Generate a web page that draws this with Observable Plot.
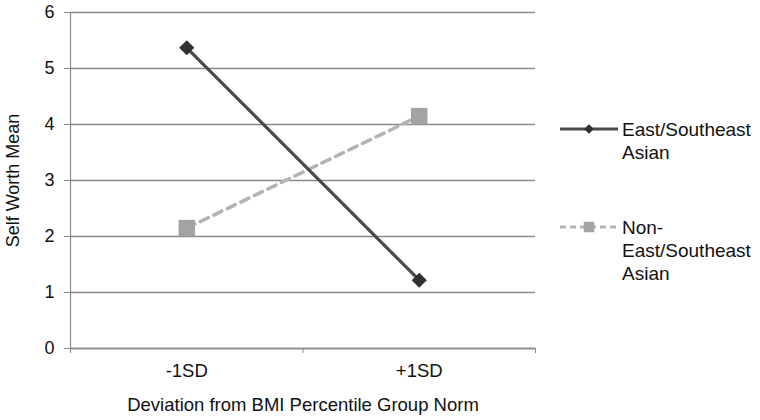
<!DOCTYPE html>
<html>
<head>
<meta charset="utf-8">
<script src="https://cdn.jsdelivr.net/npm/d3@7"></script>
<script src="https://cdn.jsdelivr.net/npm/@observablehq/plot@0.6"></script>
<style>
  html, body { margin: 0; padding: 0; background: #fff; }
  #wrap { position: relative; width: 760px; height: 420px; font-family: "Liberation Sans", Arial, sans-serif; }
  #legend { position: absolute; left: 0; top: 0; }
</style>
</head>
<body>
<div id="wrap"></div>
<script>
const categories = ["-1SD", "+1SD"];
const seriesNames = ["East/Southeast Asian", "Non-East/Southeast Asian"];
const eastValues = [5.37, 1.22];
const nonEastValues = [2.15, 4.15];
const yTicks = [0, 1, 2, 3, 4, 5, 6];
const xTitle = "Deviation from BMI Percentile Group Norm";
const yTitle = "Self Worth Mean";
const legendLines = [["East/Southeast", "Asian"], ["Non-", "East/Southeast", "Asian"]];

const eastColor = "#4a4a4a";
const eastMarker = "#303030";
const nonColor = "#b3b3b3";
const nonMarker = "#a3a3a3";

const rows = [];
categories.forEach((c, i) => {
  rows.push({series: seriesNames[0], pos: i + 0.5, value: eastValues[i]});
  rows.push({series: seriesNames[1], pos: i + 0.5, value: nonEastValues[i]});
});
const east = rows.filter(d => d.series === seriesNames[0]);
const non = rows.filter(d => d.series === seriesNames[1]);
const boundaries = d3.range(categories.length + 1);
const centers = categories.map((c, i) => i + 0.5);

const chart = Plot.plot({
  width: 760,
  height: 420,
  marginLeft: 70,
  marginRight: 225,
  marginTop: 12,
  marginBottom: 72,
  style: {fontFamily: "'Liberation Sans', Arial, sans-serif", fontSize: "18.5px", color: "#111", background: "#fff"},
  x: {domain: [0, categories.length], axis: null},
  y: {domain: [0, 6], axis: null},
  marks: [
    Plot.gridY(yTicks, {stroke: "#8a8a8a", strokeOpacity: 1, strokeWidth: 1.4}),
    Plot.axisY(yTicks, {tickSize: 6, stroke: "#8a8a8a", tickFormat: d => String(d), tickPadding: 10,
      label: yTitle, labelAnchor: "center", labelArrow: "none", labelOffset: 64, fontSize: 18}),
    Plot.ruleX([0], {stroke: "#8a8a8a", strokeWidth: 1.2}),
    Plot.ruleY([0], {stroke: "#8a8a8a", strokeWidth: 1.4}),
    Plot.axisX(boundaries, {tickSize: 5, stroke: "#8a8a8a", text: null, label: null}),
    Plot.axisX(centers, {tickSize: 0, tickPadding: 15, tickFormat: d => categories[Math.floor(d)],
      label: xTitle, labelAnchor: "center", labelArrow: "none", labelOffset: 62}),
    Plot.line(non, {x: "pos", y: "value", stroke: nonColor, strokeWidth: 3.5, strokeDasharray: "9,6"}),
    Plot.line(east, {x: "pos", y: "value", stroke: eastColor, strokeWidth: 3.2}),
    Plot.dot(non, {x: "pos", y: "value", symbol: "square", r: 9.3, fill: nonMarker, stroke: "none"}),
    Plot.dot(east, {x: "pos", y: "value", symbol: "diamond2", r: 6.8, fill: eastMarker, stroke: "none"})
  ]
});
document.getElementById("wrap").appendChild(chart);

// Legend
const svg = d3.select("#wrap").append("svg")
  .attr("id", "legend").attr("width", 760).attr("height", 420)
  .style("font-family", "'Liberation Sans', Arial, sans-serif").style("font-size", "19px");
const legendY = [129, 227];
const lineH = 23;
legendLines.forEach((lines, k) => {
  const g = svg.append("g").attr("transform", `translate(0,${legendY[k]})`);
  g.append("line").attr("x1", 560).attr("x2", 618).attr("y1", 0).attr("y2", 0)
    .attr("stroke", k === 0 ? eastColor : nonColor).attr("stroke-width", 3.2)
    .attr("stroke-dasharray", k === 0 ? null : "6,4");
  if (k === 0) {
    g.append("path").attr("d", d3.symbol(d3.symbolDiamond2, 60)()).attr("transform", "translate(589,0)").attr("fill", eastMarker);
  } else {
    g.append("path").attr("d", d3.symbol(d3.symbolSquare, 110)()).attr("transform", "translate(589,0)").attr("fill", nonMarker);
  }
  lines.forEach((t, j) => {
    g.append("text").attr("x", 622).attr("y", j * lineH).attr("dy", "0.35em").attr("fill", "#111").text(t);
  });
});
</script>
</body>
</html>
